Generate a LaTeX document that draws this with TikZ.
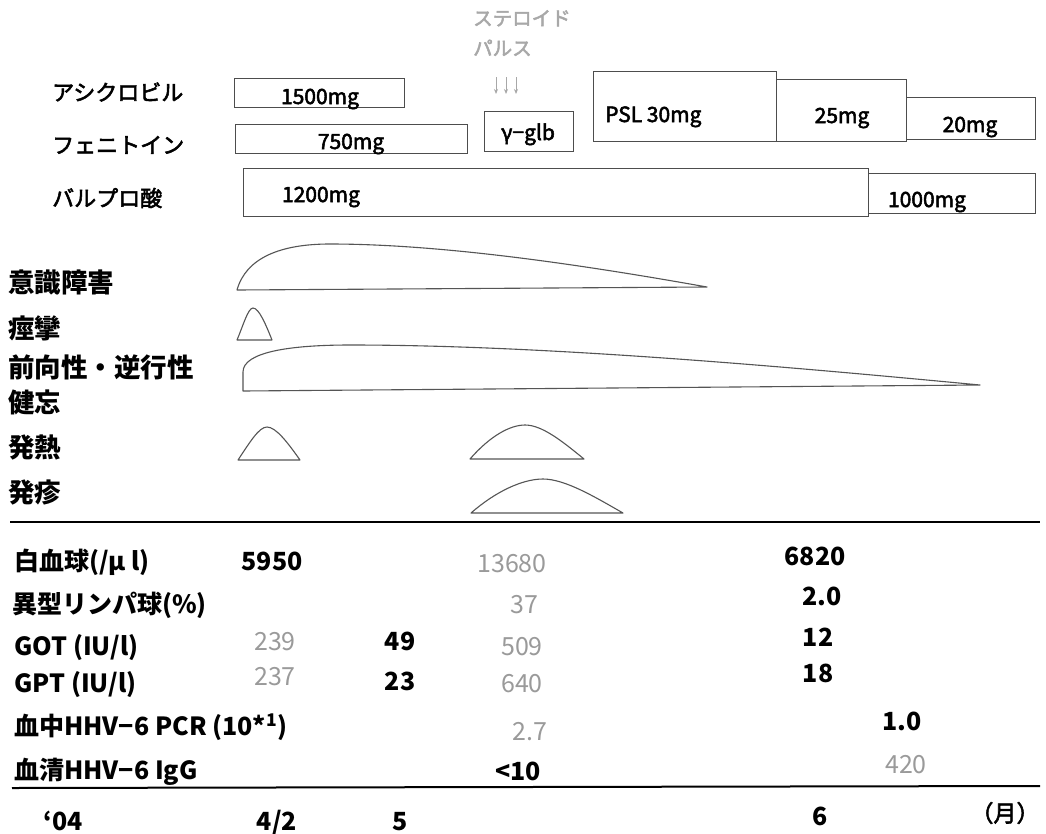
\documentclass[tikz,border=0pt]{standalone}
\usepackage{fontspec}
\setmainfont{Noto Sans CJK JP}
\newfontfamily\medfont{Noto Sans CJK JP}[FakeBold=2.5]
\usetikzlibrary{arrows.meta}
\definecolor{lgray}{HTML}{9A9A9A}
\definecolor{sgray}{HTML}{A8A8A8}
\definecolor{boxc}{HTML}{4D4D4D}
\definecolor{curvec}{HTML}{555555}
\begin{document}
\begin{tikzpicture}[x=1pt,y=-1pt,
  inner sep=0pt,
  box/.style={draw=boxc, line width=1pt},
  curve/.style={draw=curvec, line width=1.1pt, line join=round},
  rule/.style={draw=black, line width=2pt},
  drug/.style={font=\medfont\fontsize{22}{26}\selectfont, anchor=west},
  sym/.style={font=\fontsize{26.5}{35}\selectfont\bfseries, anchor=west, align=left},
  dose/.style={font=\medfont\fontsize{21}{24}\selectfont, anchor=base},
  lab/.style={font=\fontsize{25}{30}\selectfont\bfseries, anchor=west},
  val/.style={font=\fontsize{25}{30}\selectfont\bfseries, anchor=base},
  gval/.style={font=\fontsize{25}{30}\selectfont, text=lgray, anchor=base},
  pulse/.style={sgray, line width=0.9pt, -{Stealth[length=5pt,width=4pt]}}]
\useasboundingbox (0,0) rectangle (1046,833);
\fill[white] (0,0) rectangle (1046,833);

% steroid pulse
\node[font=\medfont\fontsize{19.5}{30}\selectfont, text=sgray, align=left, anchor=north west] (pulse) at (473,10) {ステロイド\\パルス};
\coordinate (pa1) at (496,77); \coordinate (pb1) at (496,94);
\coordinate (pa2) at (506,77); \coordinate (pb2) at (506,94);
\coordinate (pa3) at (516,77); \coordinate (pb3) at (516,94);
\draw[pulse] (pa1) -- (pb1);
\draw[pulse] (pa2) -- (pb2);
\draw[pulse] (pa3) -- (pb3);

% drug labels
\node[drug] (acv) at (52,92) {アシクロビル};
\node[drug] (pht) at (52,145) {フェニトイン};
\node[drug] (vpa) at (52,198) {バルプロ酸};

% dose boxes
\draw[box] (234,78) rectangle (404,107);
\draw[box] (235,124) rectangle (467,153);
\draw[box] (484,111) rectangle (573,151);
\draw[box] (243,168) rectangle (868,216);
\draw[box] (868,173) rectangle (1035,213);
\draw[box] (593,71) rectangle (776,141);
\draw[box] (776,79) rectangle (906,141);
\draw[box] (906,97) rectangle (1035,139);

\node[dose] (d1500) at (320,104) {1500mg};
\node[dose] (d750) at (351,149) {750mg};
\node[dose] (glb) at (528,140) {γ−glb};
\node[dose] (d1200) at (321,202) {1200mg};
\node[dose] (d1000) at (927,207) {1000mg};
\node[dose, anchor=base west] (psl) at (605,122) {PSL 30mg};
\node[dose] (d25) at (842,123) {25mg};
\node[dose] (d20) at (970,132) {20mg};

% symptom labels
\node[sym] (s1) at (8,282) {意識障害};
\node[sym] (s2) at (8,328) {痙攣};
\node[sym] (s3) at (8,384.5) {前向性・逆行性\\健忘};
\node[sym] (s4) at (8,447) {発熱};
\node[sym] (s5) at (8,492) {発疹};

% symptom curves
\draw[curve] (237,290) .. controls (246,258) and (280,244) .. (330,244)
  .. controls (450,244) and (600,268) .. (707,287) -- cycle;
\draw[curve] (237,340) .. controls (243,326) and (248,308) .. (253,308)
  .. controls (259,308) and (266,325) .. (272,340) -- cycle;
\draw[curve] (243,391) -- (243,372) .. controls (243,352) and (290,345) .. (350,345)
  .. controls (550,345) and (800,368) .. (980,385) -- cycle;
\draw[curve] (238,460) .. controls (250,442) and (259,427) .. (267,427)
  .. controls (276,427) and (288,443) .. (300,460) -- cycle;
\draw[curve] (470,459) .. controls (490,436) and (510,425) .. (525,425)
  .. controls (542,425) and (562,441) .. (584,459) -- cycle;
\draw[curve] (471,513) .. controls (495,492) and (522,479) .. (543,479)
  .. controls (565,479) and (595,497) .. (623,513) -- cycle;

% rules
\coordinate (r1a) at (10,522); \coordinate (r1b) at (1040,522);
\coordinate (r2a) at (12,788); \coordinate (r2b) at (1040,786);
\draw[rule] (r1a) -- (r1b);
\draw[rule] (r2a) -- (r2b);

% table labels
\node[lab] (wbc) at (14,562) {白血球(/μ l)};
\node[lab] (aty) at (12,605) {異型リンパ球(\%)};
\node[lab] (got) at (14,648) {GOT (IU/l)};
\node[lab] (gpt) at (14,685) {GPT (IU/l)};
\node[lab] (pcr) at (14,727) {血中HHV−6 PCR (10*\textsuperscript{1})};
\node[lab] (igg) at (14,772) {血清HHV−6 IgG};

% values
\node[val] (v1) at (272,570) {5950};
\node[gval] (v2) at (512,572) {13680};
\node[val] (v3) at (815,565) {6820};
\node[gval] (v4) at (524,613) {37};
\node[val] (v5) at (822,605) {2.0};
\node[gval] (v6) at (275,650) {239};
\node[val] (v7) at (400,650) {49};
\node[gval] (v8) at (522,655) {509};
\node[val] (v9) at (818,646) {12};
\node[gval] (v10) at (275,685) {237};
\node[val] (v11) at (400,690) {23};
\node[gval] (v12) at (522,692) {640};
\node[val] (v13) at (818,682) {18};
\node[gval] (v14) at (530,740) {2.7};
\node[val] (v15) at (902,730) {1.0};
\node[val] (v16) at (518,780) {<10};
\node[gval] (v17) at (906,773) {420};

% time axis
\node[val] (t0) at (63,830) {‘04};
\node[val] (t1) at (277,830) {4/2};
\node[val] (t2) at (400,830) {5};
\node[val] (t3) at (820,825) {6};
\node[font=\medfont\fontsize{23}{28}\selectfont] (tm) at (1005,813) {（月）};
\end{tikzpicture}
\end{document}
